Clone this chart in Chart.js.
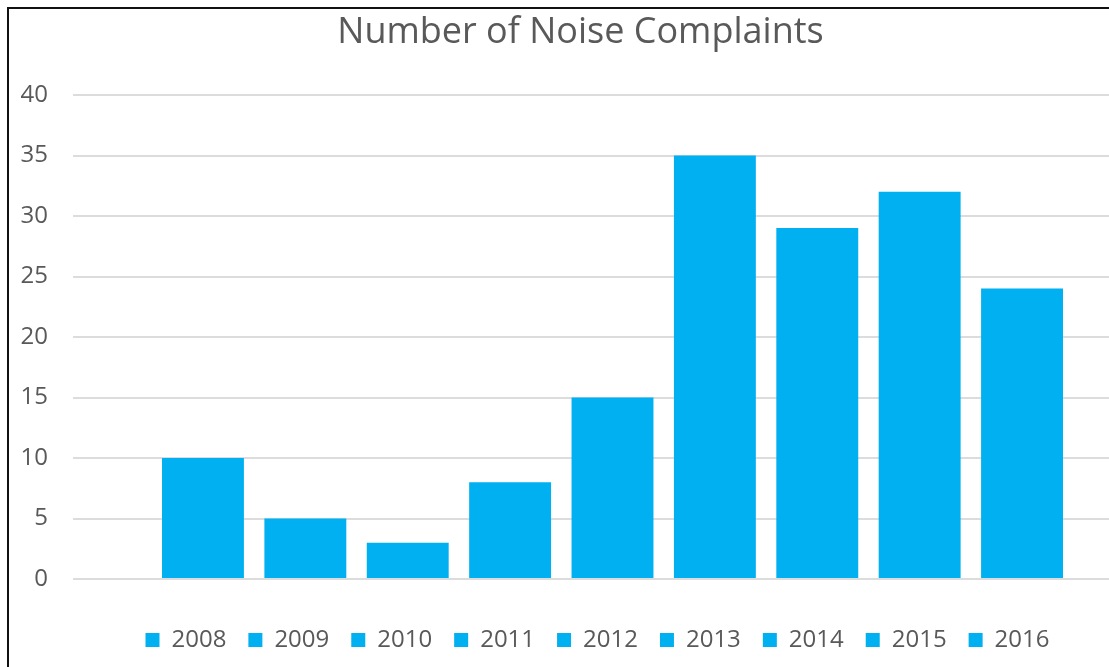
<!DOCTYPE html>
<html>
<head>
<meta charset="utf-8">
<title>Number of Noise Complaints</title>
<script src="https://cdn.jsdelivr.net/npm/chart.js@4.4.0/dist/chart.umd.min.js"></script>
<style>
  html, body { margin: 0; padding: 0; background: #fff; overflow: hidden; }
  #frame { position: absolute; left: 7px; top: 7px; width: 1152px; height: 700px; border: 2px solid #111; }
  #noiseChart { display: block; }
</style>
</head>
<body>
<div id="frame"><canvas id="noiseChart" width="1152" height="653"></canvas></div>
<script>
// complaints per year, one series per year (that's how the sheet was set up)
const years = ['2008', '2009', '2010', '2011', '2012', '2013', '2014', '2015', '2016'];
const complaints = [10, 5, 3, 8, 15, 35, 29, 32, 24];
const yMin = 0;
const yMax = 40;
const yStep = 5;

const barColor = '#00B0F0';
const textColor = '#595959';

Chart.defaults.font.family = "'Open Sans', sans-serif";
Chart.defaults.color = textColor;

const datasets = years.map((year, i) => ({
  label: year,
  data: [complaints[i]],
  backgroundColor: barColor,
  categoryPercentage: 0.854,
  barPercentage: 0.8
}));

// legend sits a bit right of the title, nudge it over after layout
const legendNudge = {
  id: 'legendNudge',
  afterLayout(chart, args, opts) {
    const legend = chart.legend;
    if (!legend) return;
    legend.left += opts.dx;
    legend.right += opts.dx;
  }
};

const ctx = document.getElementById('noiseChart');
new Chart(ctx, {
  type: 'bar',
  data: {
    labels: [''],
    datasets: datasets
  },
  plugins: [legendNudge],
  options: {
    responsive: false,
    animation: false,
    devicePixelRatio: 1,
    layout: {
      padding: { left: 0, top: 0, right: 9, bottom: 0 }
    },
    plugins: {
      title: {
        display: true,
        text: 'Number of Noise Complaints',
        color: textColor,
        font: { size: 36, weight: 'normal', lineHeight: 1 },
        padding: { top: 6, bottom: 44 }
      },
      legend: {
        position: 'bottom',
        labels: {
          boxWidth: 14,
          boxHeight: 14,
          padding: 22,
          color: textColor,
          font: { size: 24 }
        }
      },
      legendNudge: { dx: 17 },
      tooltip: { enabled: false }
    },
    scales: {
      x: {
        grid: { display: false },
        border: { display: false },
        ticks: { display: false },
        afterFit: (scale) => { scale.height = 27; }
      },
      y: {
        min: yMin,
        max: yMax,
        ticks: {
          stepSize: yStep,
          padding: 25,
          color: textColor,
          font: { size: 24 }
        },
        grid: { color: '#dcdcdc', lineWidth: 2, drawTicks: false },
        border: { display: false },
        afterFit: (scale) => { scale.width = 64; }
      }
    }
  }
});
</script>
</body>
</html>
